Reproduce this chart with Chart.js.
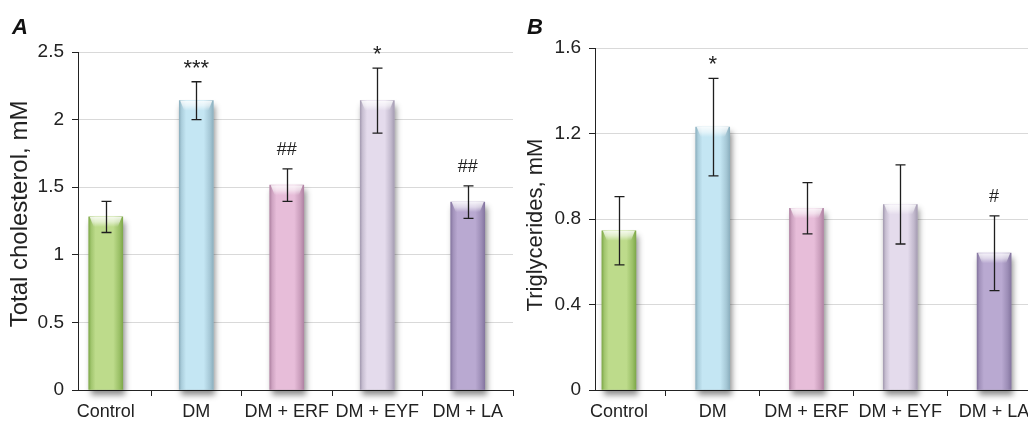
<!DOCTYPE html>
<html><head><meta charset="utf-8">
<script src="https://cdn.jsdelivr.net/npm/chart.js@4.4.1/dist/chart.umd.min.js"></script>
<style>
html,body{margin:0;padding:0;background:#fff;overflow:hidden;width:1028px;height:421px;}
#wrap{position:relative;width:1028px;height:421px;overflow:hidden;background:#fff;}
canvas{position:absolute;top:0;}
#cA{left:0;width:520px;height:421px;}
#cB{left:520px;width:560px;height:421px;}
</style></head><body>
<div id="wrap"><canvas id="cA" width="520" height="421"></canvas><canvas id="cB" width="560" height="421"></canvas></div>
<script>
// ---- data ----
const categories = ['Control', 'DM', 'DM + ERF', 'DM + EYF', 'DM + LA'];
const cholesterolMean = [1.28, 2.14, 1.515, 2.14, 1.39];
const cholesterolErr  = [0.115, 0.14, 0.12, 0.24, 0.12];
const cholesterolMarks = ['', '***', '##', '*', '##'];
const triglyceridesMean = [0.745, 1.23, 0.85, 0.868, 0.64];
const triglyceridesErr  = [0.16, 0.228, 0.12, 0.185, 0.175];
const triglyceridesMarks = ['', '*', '', '', '#'];
const cholesterolTicks = [0, 0.5, 1, 1.5, 2, 2.5];
const triglyceridesTicks = [0, 0.4, 0.8, 1.2, 1.6];

// ---- styles ----
const barBase = ['#bddb8b', '#c4e6f3', '#e7bdd9', '#e4dbec', '#b9a9d1'];
const barEdge = ['#7fa94a', '#8db0bf', '#b083a3', '#a69db3', '#8576a0'];
const FONT = "'Liberation Sans', Arial, Helvetica, sans-serif";
Chart.defaults.font.family = FONT;
Chart.defaults.color = '#222';

function hexRgb(h){const n=parseInt(h.slice(1),16);return [n>>16&255,n>>8&255,n&255];}
function mix(a,b,t){const A=hexRgb(a),B=hexRgb(b);return 'rgb('+A.map((v,i)=>Math.round(v+(B[i]-v)*t)).join(',')+')';}

function barFill(c){
  const chart=c.chart; const i=c.dataIndex;
  if(!chart.chartArea || i===undefined) return barBase[0];
  const base=barBase[i], edge=barEdge[i];
  const x=chart.scales.x.getPixelForValue(i);
  const g=chart.ctx.createLinearGradient(x-17,0,x+17,0);
  g.addColorStop(0,edge);
  g.addColorStop(0.07,mix(base,edge,0.45));
  g.addColorStop(0.2,base);
  g.addColorStop(0.72,base);
  g.addColorStop(0.9,mix(base,edge,0.55));
  g.addColorStop(1,edge);
  return g;
}

const decor = {
  id:'decor',
  beforeDatasetsDraw(chart){
    const ctx=chart.ctx; const meta=chart.getDatasetMeta(0);
    meta.data.forEach((el,i)=>{
      const w=el.width, l=el.x-w/2;
      ctx.save();
      ctx.shadowColor='rgba(0,0,0,0.45)';
      ctx.shadowBlur=6; ctx.shadowOffsetX=2; ctx.shadowOffsetY=5;
      ctx.fillStyle=barBase[i];
      ctx.fillRect(l,el.y,w,el.base-el.y);
      ctx.restore();
    });
  },
  afterDatasetsDraw(chart,args,opts){
    const ctx=chart.ctx; const meta=chart.getDatasetMeta(0); const ys=chart.scales.y;
    meta.data.forEach((el,i)=>{
      const w=el.width, l=el.x-w/2, r=el.x+w/2, t=el.y;
      ctx.save();
      const g=ctx.createLinearGradient(0,t,0,t+10);
      g.addColorStop(0,'rgba(255,255,255,0.85)');
      g.addColorStop(0.5,'rgba(255,255,255,0.55)');
      g.addColorStop(1,'rgba(255,255,255,0)');
      ctx.fillStyle=g;
      ctx.beginPath();
      ctx.moveTo(l+1,t); ctx.lineTo(r-1,t); ctx.lineTo(r-5,t+10); ctx.lineTo(l+5,t+10); ctx.closePath();
      ctx.fill();
      ctx.restore();
    });
    ctx.save();
    ctx.strokeStyle='#1e1e1e'; ctx.lineWidth=1.3;
    meta.data.forEach((el,i)=>{
      const m=opts.mean[i], e=opts.err[i];
      const yt=ys.getPixelForValue(m+e), yb=ys.getPixelForValue(m-e);
      const x=Math.round(el.x)+0.5;
      ctx.beginPath();
      ctx.moveTo(x,yt); ctx.lineTo(x,yb);
      ctx.moveTo(x-5,yt); ctx.lineTo(x+5,yt);
      ctx.moveTo(x-5,yb); ctx.lineTo(x+5,yb);
      ctx.stroke();
      const mk=opts.marks[i];
      if(mk){
        const size = mk.indexOf('*')>=0 ? 22 : 18;
        ctx.font=size+'px '+FONT; ctx.fillStyle='#222'; ctx.textAlign='center'; ctx.textBaseline='alphabetic';
        const d=ctx.measureText(mk).actualBoundingBoxDescent;
        ctx.fillText(mk,el.x,yt-14-d);
      }
    });
    ctx.restore();
  },
  afterDraw(chart,args,opts){
    const ctx=chart.ctx;
    ctx.save();
    ctx.fillStyle='#111'; ctx.font='italic bold 22px '+FONT; ctx.textAlign='left'; ctx.textBaseline='alphabetic';
    ctx.fillText(opts.letter,opts.letterX,34);
    ctx.fillStyle='#222'; ctx.font=opts.titleSize+'px '+FONT; ctx.textAlign='center';
    ctx.translate(opts.titleX,opts.titleY); ctx.rotate(-Math.PI/2);
    ctx.fillText(opts.title,0,0);
    ctx.restore();
  }
};

function makeChart(id,cfg){
  return new Chart(document.getElementById(id),{
    type:'bar',
    data:{datasets:[{
      data:cfg.mean.map((v,i)=>({x:i,y:v})),
      backgroundColor:barFill, borderWidth:0, barThickness:34
    }]},
    options:{
      responsive:false, animation:false, events:[],
      layout:{padding:cfg.padding},
      plugins:{legend:{display:false}, tooltip:{enabled:false},
        decor:{mean:cfg.mean, err:cfg.err, marks:cfg.marks, letter:cfg.letter, letterX:cfg.letterX,
               title:cfg.title, titleX:cfg.titleX, titleY:cfg.titleY, titleSize:cfg.titleSize}},
      scales:{
        x:{type:'linear', offset:false, min:cfg.xMin, max:4.5, z:1,
           afterBuildTicks:s=>{s.ticks=categories.map((_,i)=>({value:i}));},
           afterFit:s=>{s.height=31;},
           ticks:{autoSkip:false, maxRotation:0, minRotation:0, padding:5, color:'#222', font:{size:18},
                  callback:v=>categories[v]},
           grid:{offset:true, drawOnChartArea:false, tickLength:6, tickColor:'#222', tickWidth:1},
           border:{color:'#222', width:1}},
        y:{min:0, max:cfg.ticks[cfg.ticks.length-1],
           afterBuildTicks:s=>{s.ticks=cfg.ticks.map(v=>({value:v}));},
           afterFit:s=>{s.width=cfg.yWidth;},
           ticks:{padding:8, color:'#222', font:{size:19}, callback:v=>String(v)},
           grid:{color:'#d9d9d9', tickLength:6, tickColor:'#222'},
           border:{color:'#222', width:1}}
      }
    },
    plugins:[decor]
  });
}

makeChart('cA',{mean:cholesterolMean, err:cholesterolErr, marks:cholesterolMarks, ticks:cholesterolTicks,
  padding:{left:0,right:7,top:52,bottom:0}, yWidth:78, xMin:-0.307,
  letter:'A', letterX:12, title:'Total cholesterol, mM', titleX:27, titleY:214, titleSize:24});
makeChart('cB',{mean:triglyceridesMean, err:triglyceridesErr, marks:triglyceridesMarks, ticks:triglyceridesTicks,
  padding:{left:0,right:39,top:48,bottom:0}, yWidth:75, xMin:-0.255,
  letter:'B', letterX:7, title:'Triglycerides, mM', titleX:22, titleY:225, titleSize:22});
</script>
</body></html>
